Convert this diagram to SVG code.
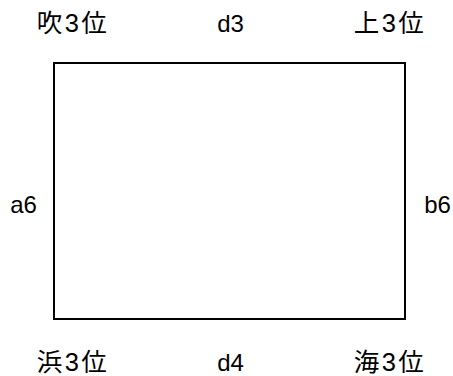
<svg xmlns="http://www.w3.org/2000/svg" width="453" height="376" viewBox="0 0 453 376">
<style>
.t{font-family:"Liberation Sans","Noto Sans CJK JP",sans-serif;font-size:24px;fill:#000;text-anchor:middle}
.j{font-size:25.5px;letter-spacing:2.5px}
.box{fill:#fff;stroke:#000;stroke-width:2}
</style>
<rect width="453" height="376" fill="#fff"/>
<g id="frame"><rect class="box" x="54" y="63" width="351" height="256"/></g>
<g id="connectors"/>
<g id="n-tl"><text class="t j" x="73" y="32">吹3位</text></g>
<g id="n-top"><text class="t" x="230.5" y="32">d3</text></g>
<g id="n-tr"><text class="t j" x="390" y="32">上3位</text></g>
<g id="n-left"><text class="t" x="23.5" y="213">a6</text></g>
<g id="n-right"><text class="t" x="437.5" y="213">b6</text></g>
<g id="n-bl"><text class="t j" x="73" y="371">浜3位</text></g>
<g id="n-bottom"><text class="t" x="230.5" y="371">d4</text></g>
<g id="n-br"><text class="t j" x="390" y="371">海3位</text></g>
</svg>
